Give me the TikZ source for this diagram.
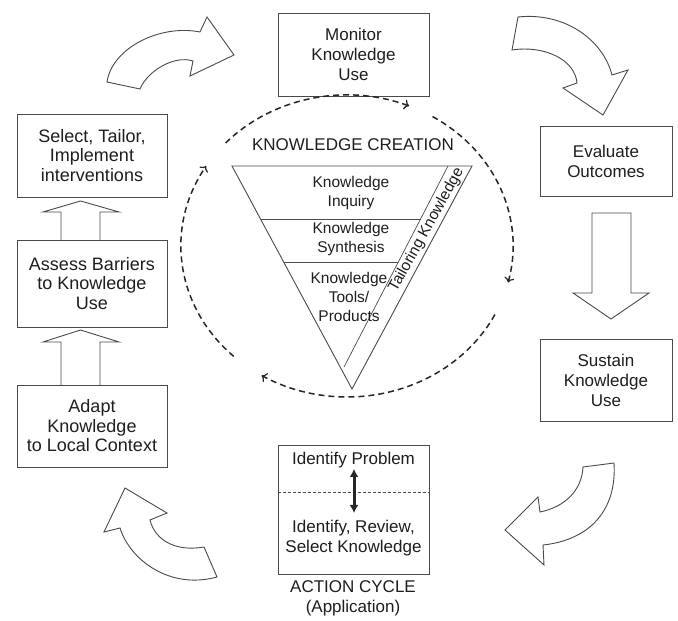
\documentclass[tikz,border=0pt]{standalone}
\usepackage{fontspec}
\setmainfont{Liberation Sans}
\usetikzlibrary{arrows.meta}
\definecolor{linec}{HTML}{4A4A4A}
\definecolor{txt}{HTML}{1E1E1E}
\tikzset{
  stagebox/.style={draw=linec, line width=0.9pt, fill=white, align=center, inner sep=0pt,
    text=txt, font=\fontsize{17}{20}\selectfont},
  leftbox/.style={stagebox, font=\fontsize{18}{19.5}\selectfont},
  plain/.style={align=center, inner sep=0pt, text=txt, font=\fontsize{17}{20}\selectfont},
  tritext/.style={align=center, inner sep=0pt, text=txt, font=\fontsize{15.5}{19}\selectfont},
  blockarrow/.style={draw=linec, line width=0.9pt, fill=white, line join=miter},
  cycarc/.style={draw=black!85, line width=1.5pt, dash pattern=on 6pt off 4pt,
    -{To[length=5pt,width=10pt,line width=1.2pt]}},
  triline/.style={draw=linec, line width=0.9pt}
}
\begin{document}
\begin{tikzpicture}[x=1pt,y=1pt]
\useasboundingbox (0,0) rectangle (678,621);

% ---- boxes of the action cycle
\node[stagebox, minimum width=151pt, minimum height=83pt] (mon) at (353.5,566.5) {Monitor\\Knowledge\\Use};
\node[stagebox, minimum width=132pt, minimum height=70pt] (eval) at (606,460) {Evaluate\\Outcomes};
\node[stagebox, minimum width=132pt, minimum height=82pt] (sust) at (606,241) {Sustain\\Knowledge\\Use};
\node[leftbox, minimum width=150pt, minimum height=83pt] (sel) at (92,465.5) {Select, Tailor,\\Implement\\interventions};
\node[leftbox, minimum width=150pt, minimum height=87pt] (assess) at (92,337.5) {Assess Barriers\\to Knowledge\\Use};
\node[leftbox, minimum width=150pt, minimum height=82pt] (adapt) at (92,195) {Adapt\\Knowledge\\to Local Context};

% ---- identify box
\node[stagebox, minimum width=151pt, minimum height=129pt] (ident) at (353.5,111.5) {};
\draw[draw=linec, line width=0.7pt, dash pattern=on 3pt off 2pt] ([yshift=17.5pt]ident.west) -- ([yshift=17.5pt]ident.east);
\node[plain] (prob) at (353.5,161) {Identify Problem};
\node[plain] (know) at (353.5,83) {Identify, Review,\\Select Knowledge};
\coordinate (da1) at (354,152);
\coordinate (da2) at (354,108);
\draw[line width=3pt, black!85, {Latex[length=8pt,width=9pt]}-{Latex[length=8pt,width=9pt]}] (da1) -- (da2);
\node[plain] (actc) at (353,23) {ACTION CYCLE\\(Application)};

% ---- straight block arrows
\draw[blockarrow] (61,381) -- (61,409) -- (43,409) -- (80.5,420) -- (119,409) -- (100,409) -- (100,381);
\draw[blockarrow] (61,236) -- (61,279) -- (43,279) -- (80.5,291) -- (119,279) -- (100,279) -- (100,236);
\draw[blockarrow] (592,408) -- (592,328) -- (573,328) -- (611,302) -- (649,328) -- (631,328) -- (631,408) -- cycle;

% ---- curved block arrows
% top-left
\draw[blockarrow] (107,539) .. controls (112,573) and (160,597) .. (200,589)
  -- (207,604) -- (234,566) -- (190,545) -- (193,560)
  .. controls (175,566) and (148,551) .. (140,532) -- cycle;
% top-right
\draw[blockarrow] (518,604) .. controls (565,609) and (603,581) .. (612,546)
  -- (628,551) -- (603,506) -- (563,533) -- (577,538)
  .. controls (575,561) and (545,576) .. (512,571) -- cycle;
% bottom-right
\draw[blockarrow] (614,158) .. controls (617,111) and (590,81) .. (543,76)
  -- (544,56) -- (505,91) -- (538,124) -- (540,109)
  .. controls (565,114) and (582,131) .. (583,154) -- cycle;
% bottom-left
\draw[blockarrow] (125,133) -- (104,89) -- (120,93)
  .. controls (130,61) and (170,31) .. (217,44)
  -- (204,74) .. controls (175,69) and (155,81) .. (150,101)
  -- (167,108) -- cycle;

% ---- knowledge creation funnel
\coordinate (tA) at (232,455);
\coordinate (tB) at (472,455);
\coordinate (tC) at (352,232);
\draw[triline] (tA) -- (tB) -- (tC) -- cycle;
\coordinate (s1) at (448,455);
\coordinate (s2) at (344,254);
\draw[draw=linec, line width=0.7pt] (s1) -- (s2);
\draw[triline] (260.5,402) -- (420.6,402);
\draw[triline] (283.7,359) -- (398.3,359);
\node[plain] (kc) at (353,476) {KNOWLEDGE CREATION};
\node[tritext] (inq) at (351,428) {Knowledge\\Inquiry};
\node[tritext] (syn) at (351,382.5) {Knowledge\\Synthesis};
\node[tritext] (tools) at (349,324.5) {Knowledge\\Tools/\\Products};
\node[tritext, rotate=61] (tail) at (426.5,391) {Tailoring Knowledge};

% ---- dashed cycle
\coordinate (cc) at (347,375);
\draw[cycarc] ([shift={(137:166pt and 151pt)}]cc) arc[start angle=137, end angle=68, x radius=166pt, y radius=151pt];
\draw[cycarc] ([shift={(59:166pt and 151pt)}]cc) arc[start angle=59, end angle=-14, x radius=166pt, y radius=151pt];
\draw[cycarc] ([shift={(-27:166pt and 151pt)}]cc) arc[start angle=-27, end angle=-121, x radius=166pt, y radius=151pt];
\draw[cycarc] ([shift={(227:166pt and 151pt)}]cc) arc[start angle=227, end angle=148, x radius=166pt, y radius=151pt];
\end{tikzpicture}
\end{document}
